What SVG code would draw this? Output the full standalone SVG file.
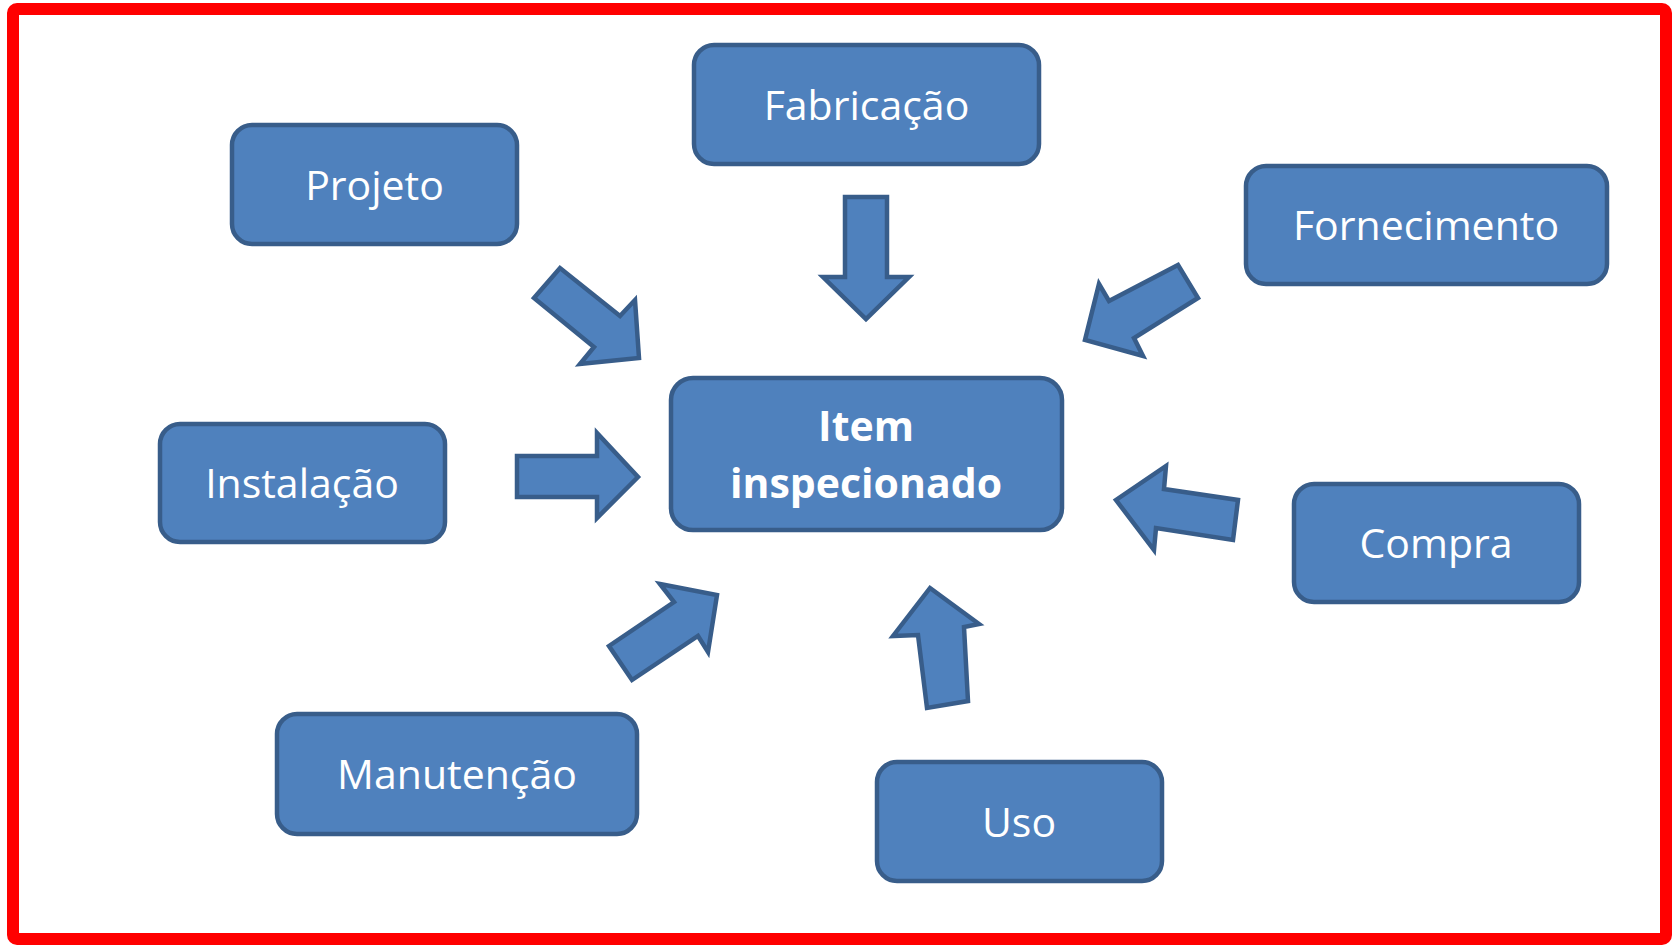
<svg xmlns="http://www.w3.org/2000/svg" width="1676" height="945" viewBox="0 0 1676 945">
<style>
.box{fill:#4f81bd;stroke:#385d8a;stroke-width:4.5}
.arr{fill:#4f81bd;stroke:#385d8a;stroke-width:4.5;stroke-linejoin:miter}
.t{font-family:"Open Sans","Noto Sans",sans-serif;font-size:41px;fill:#ffffff;text-anchor:middle}
.b{font-weight:bold}
</style>
<rect x="0" y="0" width="1676" height="945" fill="#ffffff"/>
<rect x="13" y="9" width="1653" height="930" rx="4" fill="none" stroke="#ff0000" stroke-width="12"/>
<g id="connectors">
<polygon class="arr" points="534,298 560,268 620,316 635,300 639,358 580,364 594,347"/>
<polygon class="arr" points="845,197 887,197 887,277 909,277 866,319 823,277 845,277"/>
<polygon class="arr" points="1178,265 1198,298 1134,338 1143,356 1085,340 1099,284 1109,301"/>
<polygon class="arr" points="517,456 597,456 597,433 638,477 597,518 597,497 517,497"/>
<polygon class="arr" points="1166,466 1164,489 1238,500 1233,540 1156,528 1154,550 1116,500"/>
<polygon class="arr" points="660,584 717,595 708,652 698,636 632,680 609,646 674,602"/>
<polygon class="arr" points="930,588 979,624 964,627 968,701 927,708 918,635 893,636"/>
</g>
<g id="projeto"><rect class="box" x="232" y="125" width="285" height="119" rx="20"/><text class="t" x="374.5" y="200">Projeto</text></g>
<g id="fabricacao"><rect class="box" x="694" y="45" width="345" height="119" rx="20"/><text class="t" x="866.5" y="120">Fabricação</text></g>
<g id="fornecimento"><rect class="box" x="1246" y="166" width="361" height="118" rx="20"/><text class="t" x="1426" y="240">Fornecimento</text></g>
<g id="instalacao"><rect class="box" x="160" y="424" width="285" height="118" rx="20"/><text class="t" x="302" y="498">Instalação</text></g>
<g id="item"><rect class="box" x="671" y="378" width="391" height="152" rx="22"/><text class="t b" x="866" y="441">Item</text><text class="t b" x="866" y="498">inspecionado</text></g>
<g id="compra"><rect class="box" x="1294" y="484" width="285" height="118" rx="20"/><text class="t" x="1436" y="558">Compra</text></g>
<g id="manutencao"><rect class="box" x="277" y="714" width="360" height="120" rx="20"/><text class="t" x="457" y="789">Manutenção</text></g>
<g id="uso"><rect class="box" x="877" y="762" width="285" height="119" rx="20"/><text class="t" x="1019" y="837">Uso</text></g>
</svg>
